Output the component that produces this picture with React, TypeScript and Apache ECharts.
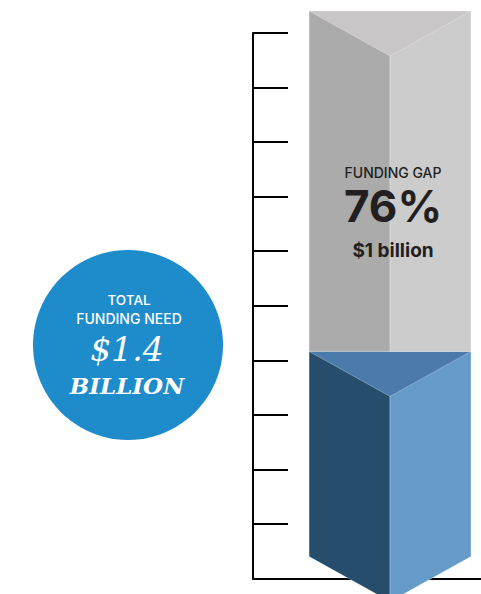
import React, { useEffect, useRef } from "react";
import * as echarts from "echarts";

// ---- data ----
const segmentNames = ["Funded", "Funding gap"];
const segmentStart = [0, 37.6];
const segmentEnd = [37.6, 100];
const yTicks = [0, 10, 20, 30, 40, 50, 60, 70, 80, 90, 100];
const gapTitle = "FUNDING GAP";
const gapPercent = "76%";
const gapAmount = "$1 billion";
const needLines = ["TOTAL", "FUNDING NEED"];
const needAmount = "$1.4";
const needUnit = "BILLION";

// ---- style ----
const segmentColors = [
  { top: "#4b7bab", left: "#264d6c", right: "#669bc9" },
  { top: "#c8c6c7", left: "#ababab", right: "#cccccc" },
];
const BAR_CENTER = 60.1;
const BAR_HALF = 35.5;
const BACK_OFF = -22;
const FRONT_OFF = 23;
const SANS = "Inter, 'Noto Sans', sans-serif";
const SERIF = "DejaVu Serif";

function textEl(
  text: string,
  x: number,
  y: number,
  size: number,
  weight: string,
  color: string,
  family: string,
  italic = false,
  lineHeight?: number
) {
  return {
    type: "text",
    style: {
      text,
      x,
      y,
      fill: color,
      fontSize: size,
      fontWeight: weight,
      fontFamily: family,
      fontStyle: italic ? "italic" : "normal",
      lineHeight: lineHeight ?? Math.round(size * 1.1),
      align: "center",
      verticalAlign: "middle",
      textAlign: "center",
      textVerticalAlign: "middle",
    },
  };
}

export default function App() {
  const ref = useRef<HTMLDivElement>(null);
  useEffect(() => {
    if (!ref.current) return;
    const chart = echarts.init(ref.current, null, { renderer: "svg" });
    const data = segmentNames.map((n, i) => [BAR_CENTER, segmentStart[i], segmentEnd[i], i]);
    chart.setOption({
      animation: false,
      grid: { left: 253, right: 0, top: 33, bottom: 15.5 },
      xAxis: {
        type: "value",
        min: 0,
        max: 100,
        axisLine: { show: true, onZero: false, lineStyle: { color: "#000", width: 2 } },
        axisTick: { show: false },
        axisLabel: { show: false },
        splitLine: { show: false },
      },
      yAxis: {
        type: "value",
        min: yTicks[0],
        max: yTicks[yTicks.length - 1],
        interval: yTicks[1] - yTicks[0],
        axisLine: { show: true, lineStyle: { color: "#000", width: 2 } },
        axisTick: { show: true, inside: true, length: 35, lineStyle: { color: "#000", width: 2 } },
        axisLabel: { show: false },
        splitLine: { show: false },
      },
      graphic: [
        { type: "circle", shape: { cx: 128, cy: 345, r: 95 }, style: { fill: "#1e8bcb" } },
        textEl(needLines[0], 129, 300, 13.5, "500", "#fff", SANS),
        textEl(needLines[1], 129, 318, 14, "500", "#fff", SANS),
        textEl(needAmount, 127, 349, 33, "normal", "#fff", SERIF, true),
        textEl(needUnit, 127, 385, 23, "bold", "#fff", SERIF, true),
      ],
      series: [
        {
          type: "custom",
          clip: false,
          data,
          renderItem: (params: any, api: any) => {
            const cx = api.value(0);
            const start = api.value(1);
            const end = api.value(2);
            const idx = api.value(3);
            const col = segmentColors[idx];
            const pTop = api.coord([cx, end]);
            const pBot = api.coord([cx, start]);
            const L = api.coord([cx - BAR_HALF, 0])[0];
            const R = api.coord([cx + BAR_HALF, 0])[0];
            const C = pTop[0];
            const tb = pTop[1] + BACK_OFF;
            const tf = pTop[1] + FRONT_OFF;
            const bb = pBot[1] + BACK_OFF;
            const bf = start === 0 ? pBot[1] + FRONT_OFF : bb;
            const edge = { stroke: "rgba(255,255,255,0.35)", lineWidth: 0.8 };
            const children: any[] = [
              { type: "polygon", shape: { points: [[L, tb], [C, tb], [C, bf], [L, bb]] }, style: { fill: col.left, ...edge } },
              { type: "polygon", shape: { points: [[C, tb], [R, tb], [R, bb], [C, bf]] }, style: { fill: col.right, ...edge } },
              { type: "polygon", shape: { points: [[L, tb], [R, tb], [C, tf]] }, style: { fill: col.top, ...edge } },
            ];
            if (idx === 1) {
              const midY = (pTop[1] + pBot[1]) / 2;
              children.push(textEl(gapTitle, C + 3, midY - 31, 14, "500", "#231f20", SANS));
              children.push(textEl(gapPercent, C + 3, midY + 3, 44, "bold", "#231f20", SANS, false, 34));
              children.push(textEl(gapAmount, C + 3, midY + 47, 19, "bold", "#231f20", SANS));
            }
            return { type: "group", children };
          },
        },
      ],
    });
    return () => chart.dispose();
  }, []);
  return <div ref={ref} style={{ position: "absolute", left: 0, top: 0, width: 481, height: 594 }} />;
}
